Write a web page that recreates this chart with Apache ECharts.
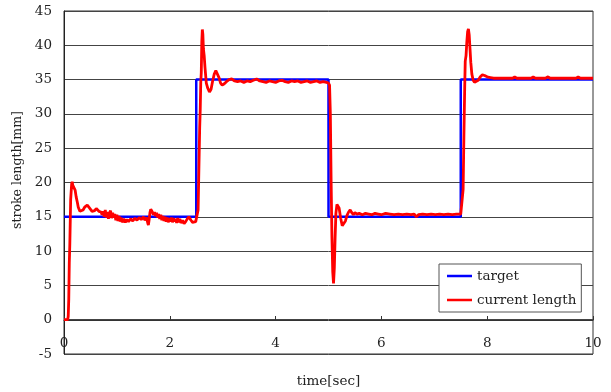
<!DOCTYPE html>
<html>
<head>
<meta charset="utf-8">
<script src="https://cdn.jsdelivr.net/npm/echarts@6/dist/echarts.min.js"></script>
<style>
  html, body { margin: 0; padding: 0; background: #fff; }
  #chart { width: 611px; height: 392px; }
</style>
</head>
<body>
<div id="chart"></div>
<script>
  // target step profile
  var targetTime = [0, 2.5, 2.5, 5.0, 5.0, 7.5, 7.5, 10];
  var targetLength = [15, 15, 35, 35, 15, 15, 35, 35];

  var currentTime = [
    0, 0.07, 0.08, 0.09, 0.10, 0.11, 0.12, 0.126, 0.135, 0.145, 0.155, 0.165, 0.18, 0.21, 0.23, 0.25, 0.27, 0.30,
    0.33, 0.36, 0.39, 0.42, 0.44, 0.47, 0.50, 0.53, 0.55, 0.58, 0.61, 0.63, 0.66, 0.68, 0.70, 0.72, 0.74, 0.76,
    0.78, 0.80, 0.82, 0.84, 0.86, 0.88, 0.90, 0.92, 0.94, 0.96, 0.98, 1.00, 1.02, 1.04, 1.06, 1.08, 1.10, 1.13,
    1.16, 1.19, 1.22, 1.26, 1.30, 1.34, 1.38, 1.42, 1.46, 1.50, 1.53, 1.56, 1.58, 1.595, 1.61, 1.625, 1.64, 1.655,
    1.67, 1.69, 1.71, 1.73, 1.75, 1.77, 1.79, 1.81, 1.83, 1.85, 1.87, 1.89, 1.91, 1.93, 1.95, 1.97, 1.99, 2.01,
    2.03, 2.05, 2.07, 2.09, 2.11, 2.13, 2.15, 2.17, 2.19, 2.21, 2.24, 2.27, 2.30, 2.33, 2.36, 2.38, 2.40, 2.43,
    2.46, 2.49, 2.52,
    2.535, 2.55, 2.565, 2.575, 2.585, 2.595, 2.605, 2.615, 2.625, 2.635, 2.65, 2.665, 2.69, 2.72, 2.75, 2.78,
    2.81, 2.84, 2.87, 2.90, 2.93, 2.96, 2.99, 3.03, 3.07, 3.12, 3.17, 3.22, 3.28, 3.34, 3.40, 3.46, 3.52, 3.58,
    3.64, 3.70, 3.76, 3.82, 3.88, 3.94, 4.00, 4.06, 4.12, 4.18, 4.24, 4.30, 4.36, 4.42, 4.48, 4.54, 4.60, 4.66,
    4.72, 4.78, 4.84, 4.90, 4.96, 5.00, 5.02,
    5.035, 5.05, 5.065, 5.08, 5.095, 5.11, 5.125, 5.14, 5.16, 5.18, 5.20, 5.23, 5.26, 5.29, 5.32, 5.35, 5.38,
    5.41, 5.44, 5.47, 5.50, 5.54, 5.58, 5.64, 5.70, 5.76, 5.82, 5.88, 5.94, 6.00, 6.08, 6.16, 6.24, 6.32, 6.40,
    6.48, 6.56, 6.62, 6.66, 6.70, 6.78, 6.86, 6.94, 7.02, 7.10, 7.18, 7.26, 7.34, 7.42, 7.50, 7.53,
    7.545, 7.56, 7.575, 7.585, 7.60, 7.615, 7.63, 7.645, 7.66, 7.675, 7.69, 7.71, 7.735, 7.76, 7.79, 7.83, 7.87,
    7.91, 7.95, 8.00, 8.06, 8.12, 8.20, 8.30, 8.40, 8.48, 8.52, 8.56, 8.66, 8.76, 8.83, 8.87, 8.91, 9.00, 9.10,
    9.15, 9.19, 9.30, 9.40, 9.50, 9.60, 9.68, 9.72, 9.76, 9.88, 10.00
  ];
  var currentLength = [
    0, 0, 0.5, 3, 8.3, 11, 15, 17.5, 18.6, 19.8, 20.1, 19.6, 19.4, 18.9, 17.9, 17.2, 16.4, 15.8,
    15.7, 16.0, 16.4, 16.6, 16.7, 16.4, 16.2, 15.8, 15.6, 15.9, 16.2, 16.1, 15.8, 16.0, 15.7, 15.3, 15.8, 15.0,
    16.0, 14.9, 15.7, 14.7, 15.5, 15.9, 14.8, 15.6, 14.9, 15.4, 14.5, 15.3, 14.4, 15.1, 14.3, 14.9, 14.2, 14.7,
    14.2, 14.6, 14.3, 14.7, 14.4, 14.8, 14.5, 14.9, 14.6, 15.0, 14.5, 14.9, 14.2, 13.8, 14.6, 15.6, 16.1, 15.9,
    15.7, 15.3, 15.7, 15.1, 15.6, 14.9, 15.4, 14.7, 15.3, 14.5, 15.1, 14.4, 15.0, 14.3, 14.9, 14.2, 14.8, 14.3,
    14.9, 14.2, 14.8, 14.3, 14.7, 14.1, 14.8, 14.2, 14.7, 14.1, 14.5, 14.0, 14.3, 14.7, 15.0, 14.8, 14.5, 14.2,
    14.4, 14.3, 14.4,
    16, 22, 28, 30.5, 34.5, 36, 40.5, 42.3, 41.6, 39.5, 38.5, 36.8, 34.5, 33.7, 33.2, 33.6,
    34.8, 35.8, 36.3, 36.1, 35.3, 34.5, 34.2, 34.4, 34.7, 35.0, 35.1, 34.8, 34.7, 34.8, 34.6, 34.8, 34.7, 34.9,
    35.1, 34.8, 34.7, 34.6, 34.8, 34.7, 34.6, 34.8, 34.9, 34.7, 34.6, 34.8, 34.7, 34.8, 34.6, 34.7, 34.8, 34.6,
    34.7, 34.8, 34.6, 34.7, 34.6, 34.5, 34.2,
    30, 20, 12, 7, 5.3, 7.5, 12, 15.5, 16.8, 17.0, 16.3, 14.8, 13.7, 13.6, 14.4, 15.2, 15.7,
    16.0, 15.6, 15.3, 15.6, 15.4, 15.5, 15.3, 15.5, 15.4, 15.3, 15.5, 15.4, 15.3, 15.5, 15.4, 15.3, 15.4, 15.3,
    15.4, 15.3, 15.4, 15.0, 15.3, 15.4, 15.3, 15.4, 15.3, 15.4, 15.3, 15.4, 15.3, 15.4, 15.4, 15.6,
    19, 27, 34, 37.7, 38.5, 40.5, 42.0, 42.4, 41.5, 39.5, 37.5, 35.8, 34.9, 34.6, 34.5, 34.9, 35.4,
    35.7, 35.6, 35.4, 35.3, 35.2, 35.2, 35.2, 35.2, 35.2, 35.4, 35.2, 35.2, 35.2, 35.2, 35.4, 35.2, 35.2, 35.2,
    35.4, 35.2, 35.2, 35.2, 35.2, 35.2, 35.2, 35.4, 35.2, 35.2, 35.2
  ];

  var xTicks = [0, 2, 4, 6, 8, 10];
  var yTicks = [-5, 0, 5, 10, 15, 20, 25, 30, 35, 40, 45];

  function pairs(xs, ys) {
    var out = [];
    for (var i = 0; i < xs.length; i++) out.push([xs[i], ys[i]]);
    return out;
  }

  var font = '"DejaVu Serif", serif';
  var lineIcon = 'path://M0,0 L25,0 L25,2.5 L0,2.5 Z';
  var chart = echarts.init(document.getElementById('chart'));
  chart.setOption({
    animation: false,
    backgroundColor: '#fff',
    textStyle: { fontFamily: font, color: '#222' },
    grid: {
      left: 64, right: 18, top: 11, bottom: 38,
      outerBoundsMode: 'none',
      containLabel: false,
      show: true, borderColor: '#333', borderWidth: 1
    },
    legend: {
      orient: 'vertical',
      left: 439, top: 264,
      padding: [5, 5, 5, 8],
      itemWidth: 25, itemHeight: 14, itemGap: 10,
      backgroundColor: '#fff',
      borderColor: '#555', borderWidth: 1,
      textStyle: { fontFamily: font, fontSize: 13.5, color: '#222' },
      data: [
        { name: 'target', icon: lineIcon },
        { name: 'current length', icon: lineIcon }
      ]
    },
    xAxis: {
      type: 'value',
      min: xTicks[0], max: xTicks[xTicks.length - 1], interval: 2,
      position: 'bottom',
      // axis line sits on the y = 0 level, 5 units (≈34px) above the frame bottom
      offset: -34,
      name: 'time[sec]',
      nameLocation: 'middle',
      nameGap: 54,
      nameTextStyle: { fontFamily: font, fontSize: 13.5, color: '#222' },
      axisLine: { onZero: false, lineStyle: { color: '#333' } },
      axisTick: { inside: true, length: 4, lineStyle: { color: '#333' } },
      axisLabel: { margin: 16, fontFamily: font, fontSize: 13.5, color: '#222' },
      splitLine: { show: false }
    },
    yAxis: {
      type: 'value',
      min: yTicks[0], max: yTicks[yTicks.length - 1], interval: 5,
      name: 'stroke length[mm]',
      nameLocation: 'middle',
      nameGap: 34,
      nameTextStyle: { fontFamily: font, fontSize: 12.5, color: '#222', padding: [0, 0, 0, 25] },
      axisLine: { show: true, lineStyle: { color: '#222' } },
      axisTick: { show: false },
      axisLabel: { margin: 12, fontFamily: font, fontSize: 13.5, color: '#222' },
      splitLine: { show: true, lineStyle: { color: '#444', width: 1 } }
    },
    series: [
      {
        name: 'target',
        type: 'line',
        data: pairs(targetTime, targetLength),
        symbol: 'none',
        lineStyle: { color: '#0000ff', width: 2.5 },
        itemStyle: { color: '#0000ff' }
      },
      {
        name: 'current length',
        type: 'line',
        data: pairs(currentTime, currentLength),
        symbol: 'none',
        lineStyle: { color: '#ff0000', width: 2.8 },
        itemStyle: { color: '#ff0000' }
      }
    ]
  });
</script>
</body>
</html>
